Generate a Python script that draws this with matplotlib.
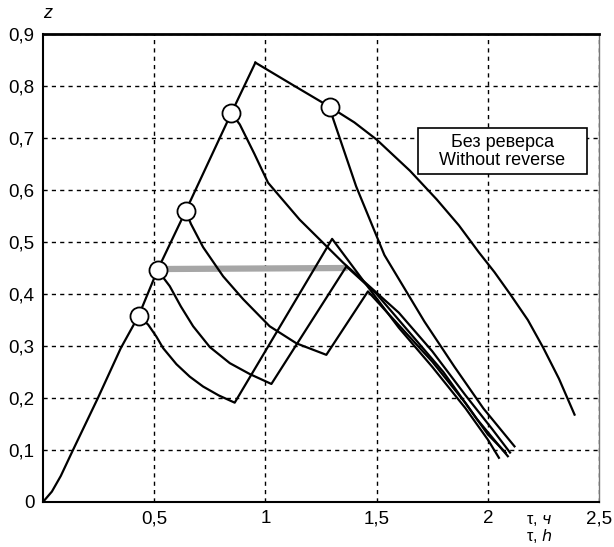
import numpy as np
import matplotlib.pyplot as plt
from matplotlib.patches import Rectangle

plt.rcParams['font.family'] = ['Liberation Sans', 'DejaVu Sans']

# common rising part (before any reverse)
rise_t = [0, 0.04, 0.08, 0.135, 0.247, 0.35, 0.43, 0.515, 0.642, 0.847, 0.955]
rise_z = [0, 0.02, 0.05, 0.1, 0.2, 0.296, 0.358, 0.446, 0.56, 0.748, 0.845]

# without reverse: peak -> end
norev_t = [0.955, 1.139, 1.289, 1.4, 1.5, 1.65, 1.77, 1.87, 1.96, 2.03, 2.1, 2.18, 2.25, 2.32, 2.39]
norev_z = [0.845, 0.798, 0.76, 0.73, 0.697, 0.637, 0.582, 0.532, 0.48, 0.442, 0.40, 0.35, 0.296, 0.237, 0.168]

# reverse branches, each starting at a marked point
c1_t = [0.43, 0.473, 0.51, 0.54, 0.6, 0.66, 0.72, 0.79, 0.862, 1.30, 1.45, 1.6, 1.75, 1.9, 2.0, 2.05]
c1_z = [0.358, 0.341, 0.318, 0.296, 0.265, 0.241, 0.222, 0.205, 0.191, 0.506, 0.42, 0.335, 0.26, 0.18, 0.12, 0.085]

c2_t = [0.515, 0.54, 0.57, 0.62, 0.675, 0.75, 0.84, 0.93, 1.027, 1.364, 1.5, 1.65, 1.8, 1.95, 2.09]
c2_z = [0.446, 0.432, 0.415, 0.376, 0.338, 0.298, 0.267, 0.246, 0.227, 0.453, 0.40, 0.325, 0.25, 0.16, 0.088]

c3_t = [0.642, 0.665, 0.72, 0.81, 0.9, 1.019, 1.14, 1.274, 1.461, 1.6, 1.75, 1.9, 2.0, 2.08]
c3_z = [0.56, 0.535, 0.49, 0.434, 0.39, 0.338, 0.305, 0.283, 0.405, 0.34, 0.27, 0.19, 0.13, 0.095]

c4_t = [0.847, 0.885, 0.95, 1.012, 1.154, 1.35, 1.6, 1.75, 1.9, 2.02, 2.1]
c4_z = [0.748, 0.726, 0.67, 0.614, 0.543, 0.46, 0.364, 0.29, 0.205, 0.14, 0.095]

c5_t = [1.289, 1.303, 1.408, 1.535, 1.715, 1.85, 1.98, 2.12]
c5_z = [0.76, 0.739, 0.607, 0.475, 0.347, 0.26, 0.18, 0.107]

# reverse points
mark_t = [0.43, 0.515, 0.642, 0.847, 1.289]
mark_z = [0.358, 0.446, 0.56, 0.748, 0.76]

# gray horizontal segment
gray_t = [0.515, 1.37]
gray_z = [0.448, 0.45]

fig = plt.figure(figsize=(6.14, 5.47), dpi=100)
ax = fig.add_axes([0.070, 0.0823, 0.9056, 0.8555])

ax.plot(gray_t, gray_z, color='#a6a6a6', lw=4.5, solid_capstyle='butt', zorder=3)
for t, z in [(rise_t, rise_z), (norev_t, norev_z), (c1_t, c1_z), (c2_t, c2_z),
             (c3_t, c3_z), (c4_t, c4_z), (c5_t, c5_z)]:
    ax.plot(t, z, color='black', lw=1.6, zorder=4)
ax.plot(mark_t, mark_z, 'o', ms=13, mfc='white', mec='black', mew=1.3, zorder=5)

ax.set_xlim(0, 2.5)
ax.set_ylim(0, 0.9)
ax.set_xticks([0.5, 1, 1.5, 2, 2.5])
ax.set_xticklabels(['0,5', '1', '1,5', '2', '2,5'])
ax.set_yticks(np.arange(0, 0.91, 0.1))
ax.set_yticklabels(['0', '0,1', '0,2', '0,3', '0,4', '0,5', '0,6', '0,7', '0,8', '0,9'])
ax.tick_params(length=0, labelsize=13.5, pad=6)
ax.grid(True, color='black', ls=(0, (3, 3)), lw=1)

ax.spines['left'].set_linewidth(1.5)
ax.spines['bottom'].set_linewidth(1.5)
ax.spines['top'].set_linewidth(2)
ax.spines['right'].set_color('#777777')
ax.spines['right'].set_linewidth(1)

# legend-like box
ax.add_patch(Rectangle((1.684, 0.630), 0.763, 0.089, fc='white', ec='black', lw=1.2, zorder=6))
ax.text(2.066, 0.674, 'Без реверса\nWithout reverse', ha='center', va='center',
        fontsize=13, linespacing=1.05, zorder=7)

fig.text(48 / 614, 1 - 14 / 547, 'z', fontsize=13, style='italic', ha='center', va='center')
fig.text(539 / 614, 1 - 520 / 547, r'τ, $\it{ч}$', fontsize=11.5, ha='center', va='center')
fig.text(539 / 614, 1 - 536 / 547, r'τ, $\it{h}$', fontsize=11.5, ha='center', va='center')

fig.savefig('out.png', dpi=100)
